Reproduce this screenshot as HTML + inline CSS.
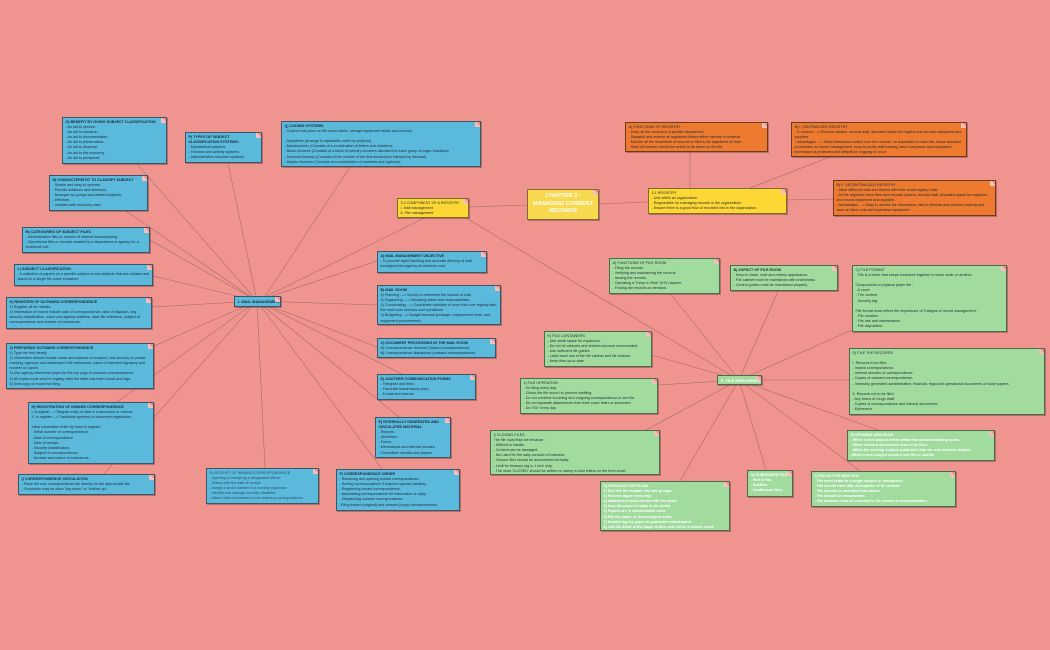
<!DOCTYPE html>
<html><head><meta charset="utf-8"><style>
body{margin:0;width:1050px;height:650px;background:#f09490;position:relative;overflow:hidden;font-family:"Liberation Sans",sans-serif}
svg{position:absolute;left:0;top:0}
.n{position:absolute;box-sizing:border-box;border:1px solid #3d5666;padding:2px 2.5px;font-size:3.7px;line-height:5.1px;color:#1a2a33;overflow:hidden;box-shadow:1px 1px 0 rgba(0,0,0,.25)}
.n:after{content:"";position:absolute;right:-1px;top:-1px;border-style:solid;border-width:0 6px 6px 0;border-color:transparent #f09490 #f3c0bd transparent}
.b{background:#5bb9dc}
.y{background:#fdd835;border-color:#7d6c2a}
.o{background:#ee7a30;border-color:#6d3a1a}
.g{background:#a1dc9e;border-color:#4d6a4d}
.w{color:#fff;font-weight:bold}
.s{white-space:nowrap;font-size:4px;line-height:5px}
b{font-weight:bold}
</style></head><body>
<svg width="1050" height="650" stroke="#a06868" stroke-width="0.55" fill="none">
<g>
<line x1="257" y1="301" x2="137" y2="164"/>
<line x1="257" y1="301" x2="228" y2="163"/>
<line x1="262" y1="301" x2="350" y2="167"/>
<line x1="257" y1="301" x2="126" y2="211"/>
<line x1="257" y1="301" x2="150" y2="240"/>
<line x1="257" y1="301" x2="153" y2="276"/>
<line x1="257" y1="301" x2="152" y2="307"/>
<line x1="257" y1="301" x2="154" y2="346"/>
<line x1="257" y1="301" x2="117" y2="402"/>
<line x1="257" y1="301" x2="104" y2="474"/>
<line x1="257" y1="301" x2="265" y2="468"/>
<line x1="257" y1="301" x2="382" y2="469"/>
<line x1="257" y1="301" x2="399" y2="417"/>
<line x1="257" y1="301" x2="402" y2="374"/>
<line x1="257" y1="301" x2="377" y2="347"/>
<line x1="257" y1="301" x2="377" y2="305"/>
<line x1="257" y1="301" x2="377" y2="261"/>
<line x1="257" y1="301" x2="424" y2="218"/>
<line x1="469" y1="207" x2="527" y2="205"/>
<line x1="599" y1="204" x2="648" y2="202"/>
<line x1="690" y1="188" x2="690" y2="152"/>
<line x1="750" y1="188" x2="830" y2="157"/>
<line x1="787" y1="200" x2="833" y2="199"/>
<line x1="466" y1="218" x2="739" y2="380"/>
<line x1="739" y1="380" x2="670" y2="293"/>
<line x1="739" y1="380" x2="778" y2="291"/>
<line x1="739" y1="380" x2="852" y2="330"/>
<line x1="739" y1="380" x2="849" y2="380"/>
<line x1="739" y1="380" x2="878" y2="430"/>
<line x1="739" y1="380" x2="766" y2="470"/>
<line x1="739" y1="380" x2="860" y2="471"/>
<line x1="739" y1="380" x2="680" y2="481"/>
<line x1="739" y1="380" x2="646" y2="430"/>
<line x1="739" y1="380" x2="658" y2="385"/>
<line x1="739" y1="380" x2="652" y2="355"/>
</g></svg>

<div class="n b" style="left:62px;top:117px;width:105px;height:47px"><b>O) BENEFIT BY DOING SUBJECT CLASSIFICATION</b><br>- An aid to service.<br>- An aid to research.<br>- An aid to documentation.<br>- An aid to preservation.<br>- An aid to disposal.<br>- An aid to the economy.<br>- An aid to personnel.</div>
<div class="n b" style="left:185px;top:132px;width:77px;height:31px"><b>P) TYPES OF SUBJECT<br>CLASSIFICATION SYSTEMS:</b><br>- Alphabetical systems.<br>- Function and activity systems.<br>- Administration structure systems.</div>
<div class="n b" style="left:281px;top:121px;width:200px;height:46px"><b>Q) CODING SYSTEMS:</b><br>- Codes must place on file cover labels, storage equipment labels and records.<br><br>- Alphabetic (Arrange in alphabetic order by subjects)<br>- Alphanumeric (Consists of a combination of letters and numbers)<br>- Block-Numeric (Consists of a block of primary numbers allocated for each group of major functions)<br>- Decimal-Numeric (Consists of the number of the first subdivision followed by decimal)<br>- Duplex-Numeric (Consists of a combination of numbers and hyphens)</div>
<div class="n b" style="left:49px;top:175px;width:99px;height:36px"><b>N) CHARACTERISTIC TO CLASSIFY SUBJECT</b><br>- Simple and easy to operate.<br>- Permits additions and deletions.<br>- Arranged by groups and related subjects.<br>- Effective.<br>- Installed with economy view.</div>
<div class="n b" style="left:22px;top:227px;width:128px;height:26px"><b>M) CATEGORIES OF SUBJECT FILES</b><br>- Administrative files or records of internal housekeeping.<br>- Operational files or records created by a department or agency for a functional role.</div>
<div class="n b" style="left:14px;top:264px;width:139px;height:22px"><b>L) SUBJECT CLASSIFICATION</b><br>- A collection of papers on a specific subject or sub-subjects that are collated and placed in a single file cover container.</div>
<div class="n b s" style="left:234px;top:296px;width:47px;height:11px;padding:2px 3px"><b>I. MAIL MANAGEMENT</b></div>
<div class="n b" style="left:6px;top:297px;width:146px;height:32px"><b>K) REGISTER OF OUTWARD CORRESPONDENCE</b><br>1) Register all the details.<br>2) Information of record include date of correspondence, date of dispatch, any security classification, name and agency address, main file reference, subject of correspondence and number of enclosures.</div>
<div class="n b" style="left:6px;top:343px;width:148px;height:46px"><b>J) PREPARING OUTWARD CORRESPONDENCE</b><br>1) Type the text clearly.<br>2) Information should include name and address of recipient, any security or private marking, agency's and addressee's file references, name of intended signatory and number of copied.<br>3) Use agency letterhead paper for the top copy of outward correspondence.<br>4) All copies must send to registry after the letter has been check and sign.<br>5) Sent copy of record for filing.</div>
<div class="n b" style="left:28px;top:402px;width:126px;height:62px"><b>H) REGISTRATION OF INWARD CORRESPONDENCE</b><br>I. A register --&gt; Regular entry of data in a document or volume.<br>II. In register --&gt; Traditional systems of document registration.<br><br>Initial information enter by hand to register :<br>- Serial number of correspondence.<br>- Date of correspondence.<br>- Date of receipt.<br>- Security classification.<br>- Subject of correspondence.<br>- Number and nature of enclosures.</div>
<div class="n b" style="left:18px;top:474px;width:137px;height:21px"><b>I) CORRESPONDENCE CIRCULATION</b><br>- Place the new correspondence file directly on the appropriate file.<br>- Circulation may be done "top-down" or "bottom-up".</div>
<div class="n b" style="left:206px;top:468px;width:113px;height:36px;color:#2c4a66">G) RECEIPT OF INWARD CORRESPONDENCE<br>- Opening or receipt by a designated officer.<br>- Stamp with the date of receipt.<br>- Assign a serial number in a running sequence.<br>- Identify and manage security classified.<br>- Attach other enclosures to the covering correspondence.</div>
<div class="n b" style="left:336px;top:469px;width:124px;height:42px"><b>F) CORRESPONDENCE ORDER</b><br>- Receiving and opening inward correspondence.<br>- Sorting correspondence if requires special handling.<br>- Registering inward correspondence.<br>- Associating correspondence for information or reply.<br>- Dispatching outward correspondence.<br>-Filing inward (original) and outward (copy) correspondence.</div>
<div class="n b" style="left:375px;top:417px;width:76px;height:41px"><b>E) INTERNALLY GENERATED AND<br>CIRCULATED MATERIAL</b><br>- Reports.<br>- Directives.<br>- Forms.<br>- Memoranda and internal minutes.<br>- Committee minutes and papers.</div>
<div class="n b" style="left:377px;top:374px;width:99px;height:26px"><b>D) ANOTHER COMMUNICATION FORMS</b><br>- Telegram and telex.<br>- Facsimile transmission (fax).<br>- E-mail and internet.</div>
<div class="n b" style="left:377px;top:338px;width:119px;height:20px"><b>C) DOCUMENT PROCESSING IN THE MAIL ROOM</b><br>A) Correspondence received (Inward correspondence)<br>B) Correspondence dispatched (outward correspondence)</div>
<div class="n b" style="left:377px;top:285px;width:124px;height:40px"><b>B) MAIL ROOM</b><br>1) Planning ---&gt; Survey to determine the volume of mail<br>2) Organizing ---&gt; Allocating duties and responsibilities<br>3) Coordinating ---&gt; Coordinate activities of more than one registry with the mail room services and operations<br>4) Budgeting ---&gt; Budget forecast (postage, replacement need, and equipment procurement).</div>
<div class="n b" style="left:377px;top:251px;width:110px;height:22px"><b>A) MAIL MANAGEMENT OBJECTIVE</b><br>- To provide rapid handling and accurate delivery of mail throughout the agency at minimum cost.</div>

<div class="n y" style="left:397px;top:198px;width:72px;height:20px">3.2 COMPONENT OF A REGISTRY<br>I. Mail management<br>II. File management</div>
<div class="n y" style="left:527px;top:189px;width:72px;height:31px;background:#f7d84e;color:#fff;font-weight:bold;font-style:italic;font-size:5.6px;line-height:7.6px;text-align:center;padding-top:3px">CHAPTER 3 :<br>MANAGING CURRENT<br>RECORDS</div>
<div class="n y" style="left:648px;top:188px;width:139px;height:26px">3.1 REGISTRY<br>- Unit within an organization.<br>- Responsible for managing records in the organization.<br>- Ensure there is a good flow of recorded info in the organization.</div>

<div class="n o" style="left:625px;top:122px;width:143px;height:30px">A) FUNCTIONS OF REGISTRY<br>- Keep all the records in a specific department.<br>- Dispatch and receive all registered letters either internal or external.<br>- Monitor all the movement of records or files to be registered on time.<br>- Staff will concern about the action to be taken on the file.</div>
<div class="n o" style="left:791px;top:122px;width:176px;height:35px">B) I. CENTRALIZED REGISTRY<br>- To control ---&gt; Records system, records staff, allocated space for registry and records equipment and supplies.<br>- Advantages ---&gt; Have intellectual control over the records, no duplication in each file, follow standard procedures on record management, easy to justify staff training, save manpower and equipment, information is protected and difficult for hogging to occur.</div>
<div class="n o" style="left:833px;top:180px;width:163px;height:36px">B) II. DECENTRALIZED REGISTRY<br>- Have different units and visions with their small registry units.<br>- All the registries have their own records system, records staff, allocated space for registries and record equipment and supplies.<br>- Advantages ---&gt; Easy to access the information, fast in retrieval and decision making and save on labor cost and expensive equipment.</div>

<div class="n g" style="left:609px;top:258px;width:111px;height:36px">A) FUNCTIONS OF FILE ROOM<br>- Filing the records.<br>- Verifying and maintaining the records.<br>- Issuing the records.<br>- Operating a "Keep in View" (KIV) system.<br>- Finding the records on demand.</div>
<div class="n g" style="left:730px;top:265px;width:108px;height:26px"><b>B) ASPECT OF FILE ROOM</b><br>- Keep in clean, neat and orderly appearance.<br>- File cabinet must be maintained with orderliness.<br>- Control guides must be maintained properly.</div>
<div class="n g" style="left:852px;top:265px;width:155px;height:67px">C) FILE FORMAT<br>- File is a folder that keeps enclosure together in some order or another.<br><br>Components of physical paper file :<br>- A cover<br>- The content<br>- Security tag<br><br>File format must reflect the importance of 3 stages of record management :<br>- File creation.<br>- File use and maintenance.<br>- File disposition.</div>
<div class="n g" style="left:849px;top:348px;width:196px;height:67px">D) FILE THE RECORDS<br><br>I. Records to be filed<br>- Inward correspondence.<br>- Internal minutes of correspondence.<br>- Copies of outward correspondence.<br>- Internally generated administrative, financial, legal and operational documents or loose papers.<br><br>II. Records not to be filed<br>- Any forms of rough draft.<br>- Copies of correspondence and internal documents.<br>- Ephemera.</div>
<div class="n g w s" style="left:717px;top:375px;width:45px;height:10px;padding:2px 3px">II. FILE MANAGEMENT</div>
<div class="n g" style="left:544px;top:331px;width:108px;height:36px">K) FILE CONTAINERS<br>- Use small space for expansion.<br>- Do not let cabinets and shelves become overcrowded.<br>- Use sufficient file guides.<br>- Label each row of the file cabinet and file shelves.<br>- Keep files up-to-date.</div>
<div class="n g" style="left:520px;top:378px;width:138px;height:36px">J) FILE OPERATION<br>- Do filing every day.<br>- Check the file record to prevent misfiling.<br>- Do not combine incoming and outgoing correspondence in one file.<br>- Do not separate attachments from their cover letter or document.<br>- Do 'KIV' every day.</div>
<div class="n g" style="left:490px;top:430px;width:170px;height:45px">I) CLOSING FILES<br>The file must thick be because :<br>- Difficult to handle.<br>- Content can be damaged.<br>- Not used for the daily conduct of business.<br>- Closure files should be documented formally.<br>- Limit for treasury tag is 1 inch only.<br>- The word 'CLOSED' should be written or stamp in bold letters on the front cover.</div>
<div class="n g w" style="left:847px;top:430px;width:148px;height:31px">E) OPENING NEW FILES<br>- When a new subject arises within the administrative process.<br>- When relevant documents need to be filed.<br>- When the existing subject subdivides into the new discrete subject.<br>-When a new subject needs a new file or subfile.</div>
<div class="n g w" style="left:747px;top:470px;width:46px;height:27px">G) SUBDIVIDED FILE<br>- Part of file.<br>- Subfiles.<br>- Continuous files.</div>
<div class="n g w" style="left:811px;top:471px;width:145px;height:36px">F) RULES FOR NEW FILE<br>- File must relate to a single subject or transaction.<br>- File should have little description of its content.<br>- File should be classified and coded.<br>- File should be documented.<br>- File location must be recorded in file control or documentation.</div>
<div class="n g w" style="left:600px;top:481px;width:130px;height:50px">H) PROCESS FOR FILING<br>1) Sort the file number into two groups.<br>2) Receive paper every day.<br>3) Attachment must remain with the cover.<br>4) Now the paper is ready to be sorted.<br>5) Papers are in classification order.<br>6) File the paper in chronological order.<br>7) Numbering the paper to guarantee maintenance.<br>8) List the detail of the paper in blue and red on a minute sheet.</div>
</body></html>
